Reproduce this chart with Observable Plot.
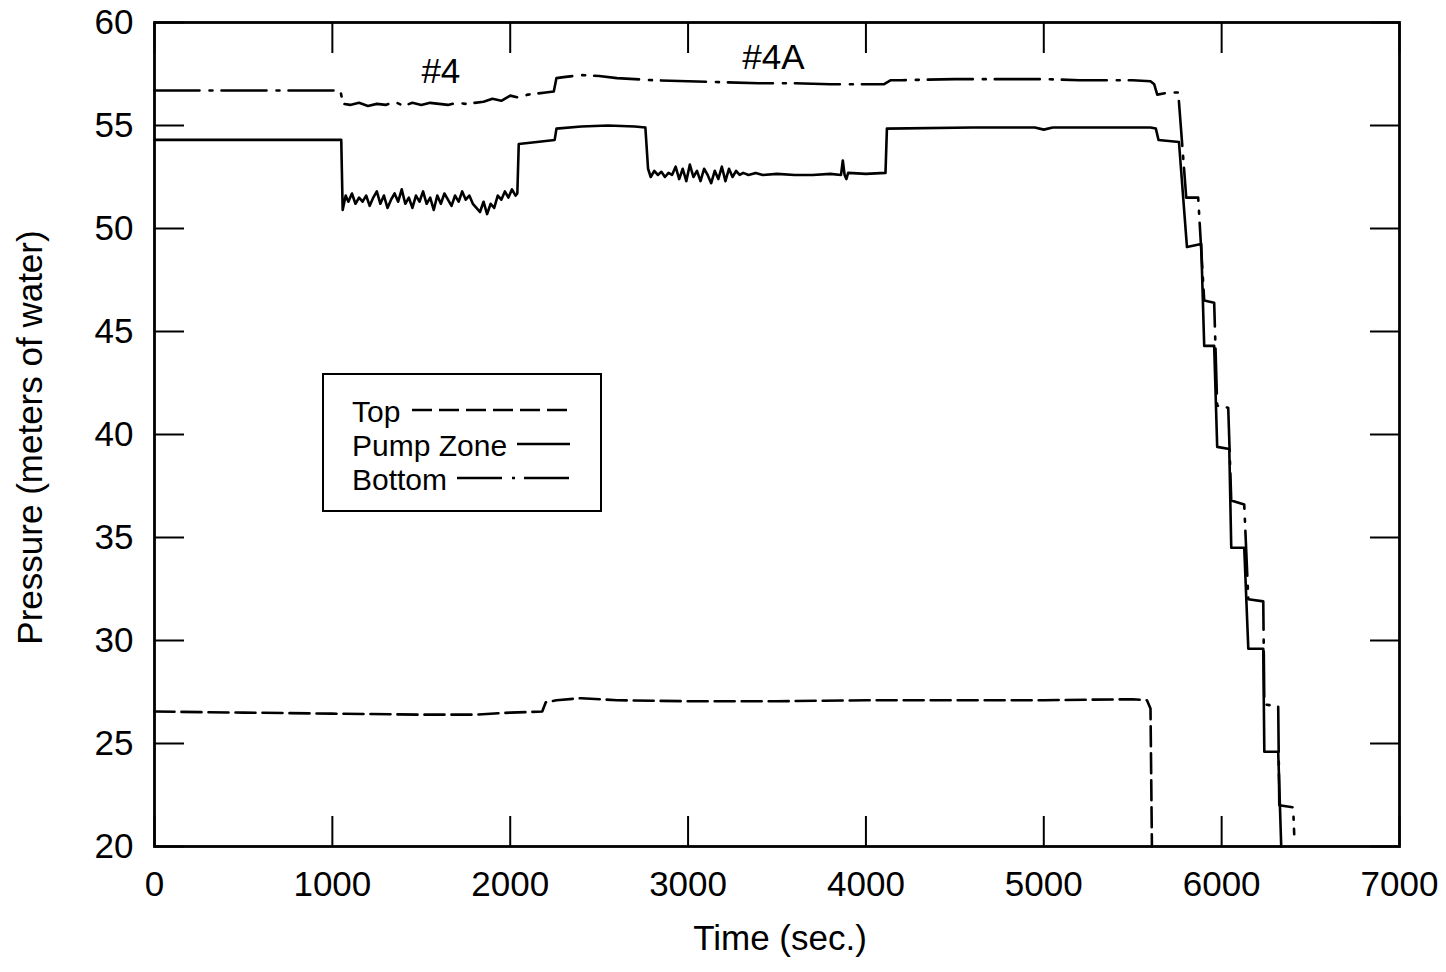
<!DOCTYPE html>
<html>
<head>
<meta charset="utf-8">
<script src="https://cdn.jsdelivr.net/npm/d3@7"></script>
<script src="https://cdn.jsdelivr.net/npm/@observablehq/plot@0.6"></script>
<style>
  html, body { margin: 0; padding: 0; background: #fff; }
  #wrap { position: relative; width: 1446px; height: 972px; font-family: "Liberation Sans", Arial, sans-serif; }
  #legend { position: absolute; left: 322px; top: 373px; }
</style>
</head>
<body>
<div id="wrap"></div>
<script>
// ---- Data ----
const xTicks = [0, 1000, 2000, 3000, 4000, 5000, 6000, 7000];
const yTicks = [20, 25, 30, 35, 40, 45, 50, 55, 60];

// Top (dashed)
const topT = [0, 500, 1000, 1500, 1800, 2000, 2180, 2200, 2260, 2400, 2600, 3000, 3500, 4000, 4500, 5000, 5500, 5580, 5600, 5608];
const topV = [26.55, 26.5, 26.45, 26.4, 26.4, 26.5, 26.55, 27.0, 27.1, 27.2, 27.1, 27.05, 27.05, 27.1, 27.1, 27.1, 27.15, 27.1, 26.7, 20.0];

// Pump Zone (solid)
const pumpT = [0, 1050, 1058, 1075, 1090, 1110, 1130, 1150, 1170, 1190, 1210, 1230, 1250, 1270, 1290, 1310, 1330, 1350, 1370, 1390, 1410, 1430, 1450, 1470, 1490, 1510, 1530, 1550, 1570, 1590, 1610, 1630, 1650, 1670, 1690, 1710, 1730, 1750, 1770, 1790, 1810, 1830, 1850, 1870, 1890, 1910, 1930, 1950, 1970, 1990, 2010, 2030, 2040,
  2048, 2150, 2250, 2260, 2400, 2550, 2700, 2760,
  2775, 2790, 2810, 2830, 2850, 2870, 2890, 2910, 2930, 2950, 2970, 2990, 3010, 3030, 3050, 3070, 3090, 3110, 3130, 3150, 3170, 3190, 3210, 3230, 3250, 3270, 3290, 3310, 3340, 3380, 3420, 3500, 3600, 3700, 3800, 3860, 3870, 3880, 3890, 3900, 4000, 4110,
  4118, 4600, 4950, 5000, 5050, 5600, 5630, 5645, 5760, 5805, 5885, 5902, 5958, 5975, 6043, 6054, 6127, 6150, 6234, 6240, 6318, 6335];
const pumpV = [54.3, 54.3, 50.9, 51.6, 51.3, 51.7, 51.2, 51.5, 51.3, 51.6, 51.1, 51.5, 51.8, 51.2, 51.6, 51.0, 51.4, 51.7, 51.3, 51.9, 51.2, 51.5, 51.0, 51.6, 51.3, 51.8, 51.2, 51.5, 50.9, 51.6, 51.2, 51.7, 51.4, 51.1, 51.6, 51.3, 51.8, 51.4, 51.6, 51.2, 51.0, 50.8, 51.3, 50.7, 51.2, 51.0, 51.6, 51.4, 51.8, 51.5, 51.9, 51.6, 51.7,
  54.1, 54.2, 54.3, 54.85, 54.95, 55.0, 54.95, 54.9,
  52.9, 52.5, 52.8, 52.6, 52.75, 52.5, 52.7, 52.6, 53.0, 52.4, 52.9, 52.3, 53.1, 52.5, 52.8, 52.3, 52.9, 52.6, 52.2, 52.8, 52.4, 53.0, 52.3, 52.9, 52.5, 52.8, 52.6, 52.7, 52.6, 52.7, 52.6, 52.65, 52.6, 52.6, 52.65, 52.6, 53.3, 52.6, 52.4, 52.7, 52.65, 52.7,
  54.85, 54.9, 54.9, 54.8, 54.9, 54.9, 54.85, 54.3, 54.2, 49.1, 49.25, 44.3, 44.3, 39.4, 39.3, 34.5, 34.5, 29.6, 29.6, 24.6, 24.6, 20.0];

// Bottom (dash-dot)
const bottomT = [0, 500, 1045, 1060, 1100, 1150, 1200, 1250, 1300, 1350, 1400, 1450, 1500, 1550, 1600, 1650, 1700, 1750, 1800, 1850, 1900, 1950, 2000, 2050, 2100, 2150, 2200, 2245, 2260, 2300, 2400, 2500, 2600, 2700, 2800, 3000, 3200, 3400, 3600, 3800, 4000, 4100, 4140, 4200, 4500, 5000, 5200, 5500, 5600, 5621, 5638, 5700, 5756, 5801, 5868, 5902, 5958, 5975, 6037, 6054, 6127, 6150, 6234, 6240, 6318, 6324, 6402, 6408];
const bottomV = [56.7, 56.7, 56.7, 56.05, 56.0, 56.1, 55.95, 56.05, 56.0, 56.15, 55.95, 56.1, 56.0, 56.1, 56.05, 56.0, 56.1, 56.05, 56.1, 56.15, 56.3, 56.2, 56.45, 56.35, 56.5, 56.55, 56.6, 56.65, 57.3, 57.35, 57.45, 57.4, 57.3, 57.25, 57.2, 57.15, 57.1, 57.05, 57.05, 57.0, 57.0, 57.0, 57.2, 57.2, 57.25, 57.25, 57.2, 57.2, 57.15, 57.0, 56.5, 56.6, 56.6, 51.5, 51.5, 46.5, 46.4, 41.4, 41.3, 36.8, 36.6, 32.0, 31.9, 26.9, 26.8, 22.0, 21.9, 20.6];

// Annotations
const annoLabels = ["#4", "#4A"];
const annoT = [1610, 3480];
const annoV = [57.6, 58.3];

// Legend entries
const legendNames = ["Top", "Pump Zone", "Bottom"];
const legendDash = ["20,7", null, "45,10,3,9"];

// ---- Build tables ----
const toRows = (T, V) => T.map((t, i) => ({t, v: V[i]}));
const topRows = toRows(topT, topV);
const pumpRows = toRows(pumpT, pumpV);
const bottomRows = toRows(bottomT, bottomV);
const annoRows = annoLabels.map((s, i) => ({s, t: annoT[i], v: annoV[i]}));

const FS = 35;
const fmt = d => String(d);

const chart = Plot.plot({
  width: 1446,
  height: 972,
  marginLeft: 154,
  marginRight: 47,
  marginTop: 22,
  marginBottom: 126,
  x: {domain: [0, 7000]},
  y: {domain: [20, 60]},
  style: {fontFamily: '"Liberation Sans", Arial, sans-serif', fontSize: FS + "px", color: "black", background: "white"},
  marks: [
    // inward ticks on all four sides
    Plot.axisX(xTicks, {anchor: "bottom", tickSize: -30, tickFormat: () => "", label: null, strokeWidth: 2}),
    Plot.axisX(xTicks, {anchor: "top", tickSize: -30, tickFormat: () => "", label: null, strokeWidth: 2}),
    Plot.axisY(yTicks, {anchor: "left", tickSize: -30, tickFormat: () => "", label: null, strokeWidth: 2}),
    Plot.axisY(yTicks, {anchor: "right", tickSize: -30, tickFormat: () => "", label: null, strokeWidth: 2}),
    // tick labels
    Plot.axisX(xTicks, {anchor: "bottom", tickSize: 0, tickPadding: 25, tickFormat: fmt, label: null, fontSize: FS}),
    Plot.axisY(yTicks, {anchor: "left", tickSize: 0, tickPadding: 21, tickFormat: fmt, label: null, fontSize: FS}),
    // axis titles
    Plot.text(["Time (sec.)"], {frameAnchor: "bottom", dx: 3, dy: 92, lineAnchor: "middle", textAnchor: "middle", fontSize: FS, fill: "black"}),
    Plot.text(["Pressure (meters of water)"], {frameAnchor: "left", dx: -124, dy: 3, rotate: -90, textAnchor: "middle", lineAnchor: "middle", fontSize: FS, fill: "black"}),
    // series
    Plot.line(topRows, {x: "t", y: "v", stroke: "black", strokeWidth: 2.6, strokeDasharray: "20,7"}),
    Plot.line(bottomRows, {x: "t", y: "v", stroke: "black", strokeWidth: 2.6, strokeDasharray: "45,10,3,9"}),
    Plot.line(pumpRows, {x: "t", y: "v", stroke: "black", strokeWidth: 2.6}),
    // annotations
    Plot.text(annoRows, {x: "t", y: "v", text: "s", fontSize: FS, fill: "black"}),
    Plot.frame({stroke: "black", strokeWidth: 2.8})
  ]
});

const wrap = document.getElementById("wrap");
wrap.appendChild(chart);

// ---- Legend box (overlay inside plot area) ----
const lw = 280, lh = 139;
const leg = d3.select(wrap).append("svg")
  .attr("id", "legend").attr("width", lw).attr("height", lh)
  .style("font-family", '"Liberation Sans", Arial, sans-serif');
leg.append("rect").attr("x", 1).attr("y", 1).attr("width", lw - 2).attr("height", lh - 2)
  .attr("fill", "white").attr("stroke", "black").attr("stroke-width", 2);
const rowY = [49, 83, 117];
const lineStart = [90, 195, 135];
legendNames.forEach((name, i) => {
  leg.append("text").attr("x", 30).attr("y", rowY[i]).attr("font-size", 30).attr("fill", "black").text(name);
  const ln = leg.append("line").attr("x1", lineStart[i]).attr("x2", 248)
    .attr("y1", rowY[i] - 12).attr("y2", rowY[i] - 12)
    .attr("stroke", "black").attr("stroke-width", 2.6);
  if (legendDash[i]) ln.attr("stroke-dasharray", legendDash[i]);
});
</script>
</body>
</html>
